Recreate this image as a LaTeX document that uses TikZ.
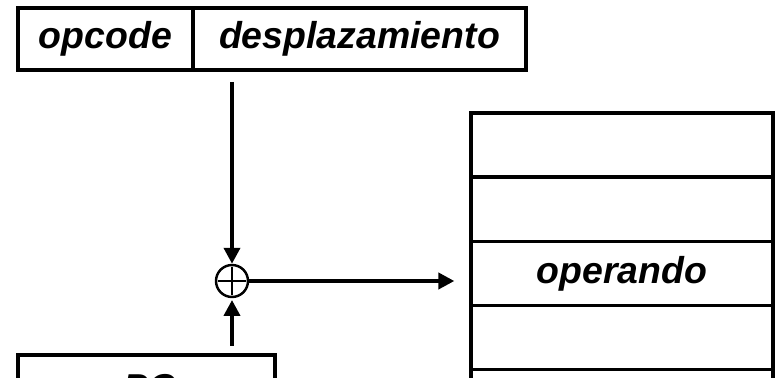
\documentclass[tikz,border=0pt]{standalone}
\usepackage{fontspec}
\setmainfont{Liberation Sans}
\usepackage{tikz}
\usetikzlibrary{arrows.meta}

\begin{document}
\begin{tikzpicture}[x=0.02cm,y=-0.02cm,->,>={Triangle[length=0.32cm,width=0.32cm]},
		line width=2.2pt,node distance=1.285cm]
		\tikzstyle{field}=[draw,line width=1.9pt,minimum height=1.24cm,inner sep=0pt,
			font=\fontsize{21.3}{24}\selectfont\bfseries\itshape]
		\tikzstyle{cell}=[field,minimum width=6.04cm,minimum height=1.285cm]
		\tikzstyle{sum}=[draw,circle,line width=1.4pt,minimum size=0.64cm,inner sep=0pt]
		
		\useasboundingbox (0,0) rectangle (775,378);
		\clip (0,0) rectangle (775,378);
		
		% instruction word
		\node[field,minimum width=3.5cm] (opc) at (105.5,39) {opcode};
		\node[field,minimum width=6.66cm] (desp) at (359.5,39) {desplazamiento};
		
		% memory
		\node[cell] (m1) at (622,145) {};
		\node[cell] (m2) [below of=m1] {};
		\node[cell] (m3) [below of=m2] {operando};
		\node[cell] (m4) [below of=m3] {};
		\node[cell] (m5) [below of=m4] {};
		
		% PC register
		\node[field,minimum width=5.14cm,minimum height=1.32cm] (pc) at (146.5,388) {\hspace{0.12cm}PC};
		
		% adder
		\node[sum] (add) at (232,281) {};
		\draw[-,line width=1.4pt,shorten <=2pt,shorten >=2pt] (add.north) -- (add.south);
		\draw[-,line width=1.4pt,shorten <=2pt,shorten >=2pt] (add.west) -- (add.east);
		
		\coordinate (dout) at (232,82);
		\coordinate (pcout) at (232,346);
		
		\draw (dout) -- (add.north);
		\draw[shorten >=1pt] (pcout) -- (add.south);
		\draw[shorten >=0.3cm] (add.east) -- (add.east -| m3.west);
\end{tikzpicture}
\end{document}
